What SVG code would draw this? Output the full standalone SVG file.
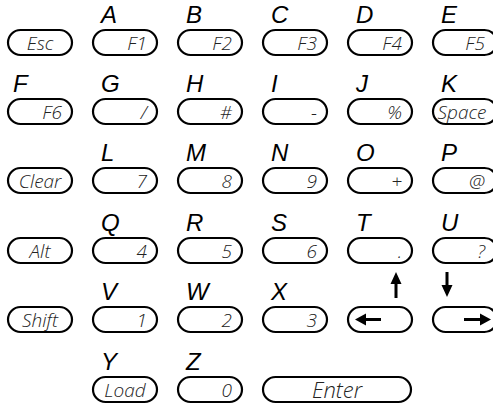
<svg xmlns="http://www.w3.org/2000/svg" width="493" height="409" viewBox="0 0 493 409">
<defs>
<style>
.k{fill:#fff;stroke:#000;stroke-width:2.2}
.l{font-family:"Liberation Sans",Arial,sans-serif;font-style:italic;font-size:24px;fill:#000}
.t{font-family:"Open Sans","DejaVu Sans",sans-serif;font-weight:300;font-style:italic;font-size:19px;fill:#222}
.r{text-anchor:end}
.c{text-anchor:middle}
.a{fill:#000;stroke:none}
</style>
</defs>
<rect width="493" height="409" fill="#fff"/>
<!-- row 1 -->
<g id="key-esc"><rect class="k" x="8" y="30" width="64" height="25" rx="12.5"/><text class="t c" x="40" y="49.5">Esc</text></g>
<g id="key-f1"><text class="l" x="101" y="23">A</text><rect class="k" x="93" y="30" width="64" height="25" rx="12.5"/><text class="t r" x="147" y="49.5">F1</text></g>
<g id="key-f2"><text class="l" x="186" y="23">B</text><rect class="k" x="178" y="30" width="64" height="25" rx="12.5"/><text class="t r" x="232" y="49.5">F2</text></g>
<g id="key-f3"><text class="l" x="271" y="23">C</text><rect class="k" x="263" y="30" width="64" height="25" rx="12.5"/><text class="t r" x="317" y="49.5">F3</text></g>
<g id="key-f4"><text class="l" x="356" y="23">D</text><rect class="k" x="348" y="30" width="64" height="25" rx="12.5"/><text class="t r" x="402" y="49.5">F4</text></g>
<g id="key-f5"><text class="l" x="441" y="23">E</text><rect class="k" x="433" y="30" width="64" height="25" rx="12.5"/><text class="t r" x="485" y="49.5">F5</text></g>
<!-- row 2 -->
<g id="key-f6"><text class="l" x="13" y="92">F</text><rect class="k" x="8" y="99" width="64" height="25" rx="12.5"/><text class="t r" x="62" y="118.5">F6</text></g>
<g id="key-slash"><text class="l" x="101" y="92">G</text><rect class="k" x="93" y="99" width="64" height="25" rx="12.5"/><text class="t r" x="147" y="118.5">/</text></g>
<g id="key-hash"><text class="l" x="186" y="92">H</text><rect class="k" x="178" y="99" width="64" height="25" rx="12.5"/><text class="t r" x="232" y="118.5">#</text></g>
<g id="key-minus"><text class="l" x="271" y="92">I</text><rect class="k" x="263" y="99" width="64" height="25" rx="12.5"/><text class="t r" x="317" y="118.5">-</text></g>
<g id="key-percent"><text class="l" x="356" y="92">J</text><rect class="k" x="348" y="99" width="64" height="25" rx="12.5"/><text class="t r" x="402" y="118.5">%</text></g>
<g id="key-space"><text class="l" x="441" y="92">K</text><rect class="k" x="433" y="99" width="64" height="25" rx="12.5"/><text class="t c" x="462" y="118.5">Space</text></g>
<!-- row 3 -->
<g id="key-clear"><rect class="k" x="8" y="168" width="64" height="25" rx="12.5"/><text class="t c" x="40" y="187.5">Clear</text></g>
<g id="key-7"><text class="l" x="101" y="161">L</text><rect class="k" x="93" y="168" width="64" height="25" rx="12.5"/><text class="t r" x="147" y="187.5">7</text></g>
<g id="key-8"><text class="l" x="186" y="161">M</text><rect class="k" x="178" y="168" width="64" height="25" rx="12.5"/><text class="t r" x="232" y="187.5">8</text></g>
<g id="key-9"><text class="l" x="271" y="161">N</text><rect class="k" x="263" y="168" width="64" height="25" rx="12.5"/><text class="t r" x="317" y="187.5">9</text></g>
<g id="key-plus"><text class="l" x="356" y="161">O</text><rect class="k" x="348" y="168" width="64" height="25" rx="12.5"/><text class="t r" x="402" y="187.5">+</text></g>
<g id="key-at"><text class="l" x="441" y="161">P</text><rect class="k" x="433" y="168" width="64" height="25" rx="12.5"/><text class="t r" x="485" y="187.5">@</text></g>
<!-- row 4 -->
<g id="key-alt"><rect class="k" x="8" y="238" width="64" height="25" rx="12.5"/><text class="t c" x="40" y="257.5">Alt</text></g>
<g id="key-4"><text class="l" x="101" y="231">Q</text><rect class="k" x="93" y="238" width="64" height="25" rx="12.5"/><text class="t r" x="147" y="257.5">4</text></g>
<g id="key-5"><text class="l" x="186" y="231">R</text><rect class="k" x="178" y="238" width="64" height="25" rx="12.5"/><text class="t r" x="232" y="257.5">5</text></g>
<g id="key-6"><text class="l" x="271" y="231">S</text><rect class="k" x="263" y="238" width="64" height="25" rx="12.5"/><text class="t r" x="317" y="257.5">6</text></g>
<g id="key-dot"><text class="l" x="356" y="231">T</text><rect class="k" x="348" y="238" width="64" height="25" rx="12.5"/><text class="t r" x="402" y="257.5">.</text></g>
<g id="key-question"><text class="l" x="441" y="231">U</text><rect class="k" x="433" y="238" width="64" height="25" rx="12.5"/><text class="t r" x="485" y="257.5">?</text></g>
<!-- row 5 -->
<g id="key-shift"><rect class="k" x="8" y="307" width="64" height="25" rx="12.5"/><text class="t c" x="40" y="326.5">Shift</text></g>
<g id="key-1"><text class="l" x="101" y="300">V</text><rect class="k" x="93" y="307" width="64" height="25" rx="12.5"/><text class="t r" x="147" y="326.5">1</text></g>
<g id="key-2"><text class="l" x="186" y="300">W</text><rect class="k" x="178" y="307" width="64" height="25" rx="12.5"/><text class="t r" x="232" y="326.5">2</text></g>
<g id="key-3"><text class="l" x="271" y="300">X</text><rect class="k" x="263" y="307" width="64" height="25" rx="12.5"/><text class="t r" x="317" y="326.5">3</text></g>
<g id="key-left"><rect class="k" x="348" y="307" width="64" height="25" rx="12.5"/><polygon class="a" points="355,319.5 366,313.5 366,318 381,318 381,321 366,321 366,325.5"/></g>
<g id="key-right"><rect class="k" x="433" y="307" width="64" height="25" rx="12.5"/><polygon class="a" points="491,319.5 480,313.5 480,318 464,318 464,321 480,321 480,325.5"/></g>
<!-- row 6 -->
<g id="key-load"><text class="l" x="101" y="370">Y</text><rect class="k" x="93" y="377" width="64" height="25" rx="12.5"/><text class="t c" x="125" y="396.5">Load</text></g>
<g id="key-0"><text class="l" x="186" y="370">Z</text><rect class="k" x="178" y="377" width="64" height="25" rx="12.5"/><text class="t r" x="232" y="396.5">0</text></g>
<g id="key-enter"><rect class="k" x="263" y="377" width="148" height="25" rx="12.5"/><text class="t c" x="337" y="397.5" style="font-size:22px">Enter</text></g>
<!-- connectors -->
<g id="connectors">
<polygon class="a" points="396,272 390.5,284 394.5,284 394.5,298 397.5,298 397.5,284 401.5,284"/>
<polygon class="a" points="447,297 441.5,285 445.5,285 445.5,272 448.5,272 448.5,285 452.5,285"/>
</g>
</svg>
